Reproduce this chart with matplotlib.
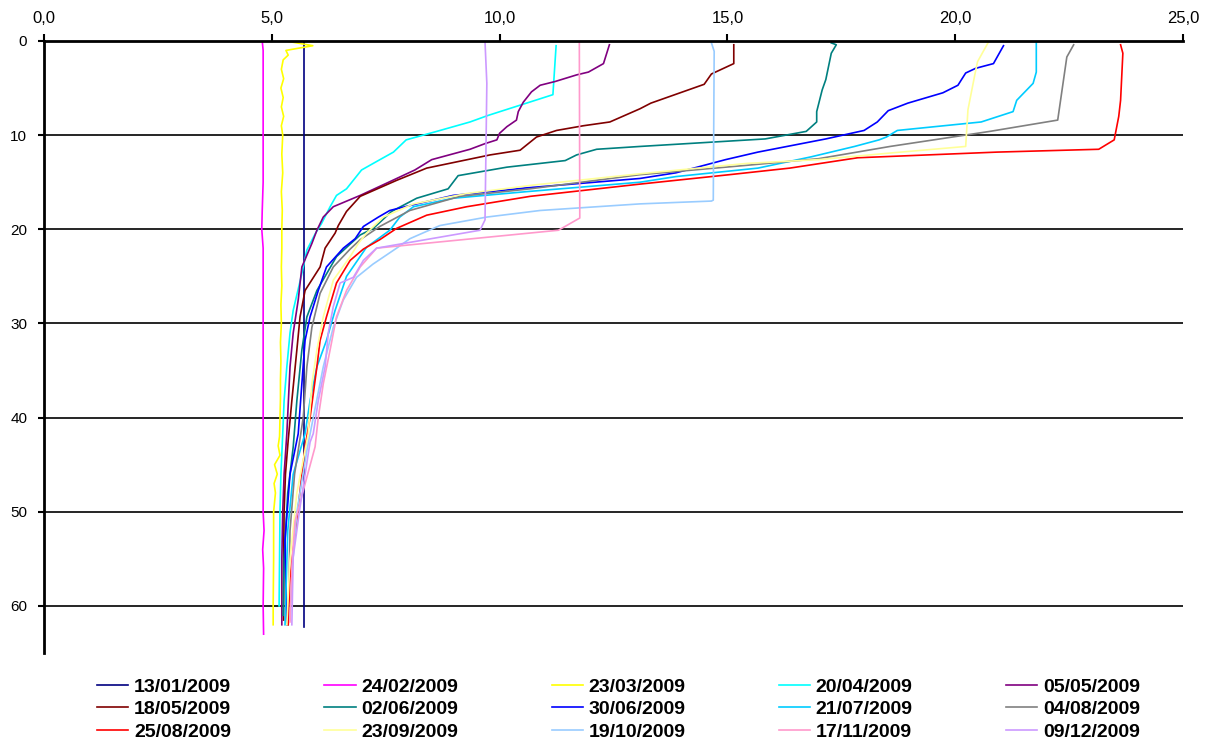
import matplotlib
matplotlib.use('Agg')
import matplotlib.pyplot as plt
from matplotlib.ticker import FuncFormatter

plt.rcParams['font.family'] = ['Liberation Sans', 'DejaVu Sans']

# Temperature profiles: depth (m) and temperature (deg C) per survey date
dates = ['13/01/2009', '24/02/2009', '23/03/2009', '20/04/2009', '05/05/2009',
         '18/05/2009', '02/06/2009', '30/06/2009', '21/07/2009', '04/08/2009',
         '25/08/2009', '23/09/2009', '19/10/2009', '17/11/2009', '09/12/2009']
colors = ['#000080', '#FF00FF', '#FFFF00', '#00FFFF', '#800080',
          '#800000', '#008080', '#0000FF', '#00CCFF', '#808080',
          '#FF0000', '#FFFF99', '#99CCFF', '#FF99CC', '#CC99FF']

d_0113 = [0, 62.2]
t_0113 = [5.71, 5.71]

d_0224 = [0, 1, 5, 15, 18, 20, 22, 30, 40, 50, 52, 54, 56, 60, 63]
t_0224 = [4.79, 4.81, 4.81, 4.81, 4.79, 4.78, 4.81, 4.81, 4.81, 4.81, 4.83, 4.80, 4.82, 4.81, 4.82]

d_0323 = [0, 0.5, 1, 1.5, 2, 3, 4, 5, 6, 7, 8, 9, 10, 12, 14, 16, 18, 20, 22, 24, 26, 28, 30,
          32, 34, 36, 38, 40, 42, 43, 44, 45, 46, 47, 48, 50, 55, 60, 62]
t_0323 = [5.31, 5.90, 5.31, 5.36, 5.25, 5.21, 5.26, 5.20, 5.25, 5.21, 5.26, 5.21, 5.24, 5.22,
          5.24, 5.21, 5.23, 5.22, 5.22, 5.21, 5.22, 5.20, 5.21, 5.19, 5.20, 5.19, 5.19, 5.18,
          5.17, 5.14, 5.18, 5.06, 5.12, 5.05, 5.08, 5.04, 5.04, 5.03, 5.03]

d_0420 = [0.5, 5.7, 6.6, 7.9, 8.6, 9.6, 10.5, 11.8, 12.8, 13.7, 15.7, 16.4, 17.6, 19.4, 20.5,
          22.2, 24.7, 28.6, 31, 34.6, 38.2, 41.7, 46, 50, 55, 60]
t_0420 = [11.24, 11.17, 10.59, 9.75, 9.35, 8.62, 7.95, 7.67, 7.30, 6.97, 6.64, 6.42, 6.28, 6.09,
          5.95, 5.77, 5.66, 5.47, 5.40, 5.33, 5.27, 5.24, 5.20, 5.18, 5.17, 5.16]

d_0505 = [0.4, 2.4, 3.3, 3.6, 4.3, 4.7, 5.4, 6.5, 7.5, 8.4, 9.1, 9.8, 10.5, 10.9, 11.5, 12.6,
          13.7, 15.1, 16.4, 17.6, 18.7, 20.1, 21.5, 24, 27.5, 31, 34.6, 41.7, 46, 50, 55, 62]
t_0505 = [12.41, 12.28, 11.95, 11.69, 11.22, 10.89, 10.70, 10.52, 10.41, 10.37, 10.16, 10.00,
          9.94, 9.68, 9.35, 8.51, 8.14, 7.52, 6.94, 6.35, 6.13, 5.99, 5.88, 5.66, 5.58, 5.47,
          5.40, 5.33, 5.27, 5.24, 5.22, 5.22]

d_0518 = [0.4, 2.4, 3.5, 4.6, 6.6, 7.2, 8.6, 9.0, 9.5, 10.2, 11.6, 12.1, 13.5, 14.8, 16.5, 18.1,
          19.6, 20.4, 22.0, 24, 26.5, 29.3, 32.8, 38.2, 42.4, 46, 50, 55, 61.5]
t_0518 = [15.14, 15.14, 14.65, 14.49, 13.32, 13.08, 12.42, 11.84, 11.25, 10.81, 10.45, 9.79,
          8.40, 7.74, 6.94, 6.64, 6.46, 6.39, 6.17, 6.06, 5.73, 5.62, 5.55, 5.44, 5.36, 5.30,
          5.27, 5.26, 5.26]

d_0602 = [0.2, 0.4, 1.3, 4.1, 5.2, 7.5, 8.6, 9.6, 10.4, 11.2, 11.5, 12.1, 12.7, 13.4, 14.3, 15.7,
          16.7, 18.1, 19.9, 20.6, 22.9, 26.5, 29.3, 32.8, 38.2, 43.1, 48, 55, 61]
t_0602 = [17.28, 17.39, 17.28, 17.16, 17.08, 16.96, 16.96, 16.73, 15.83, 13.08, 12.13, 11.69,
          11.44, 10.16, 9.09, 8.87, 8.18, 7.63, 7.23, 6.94, 6.42, 5.99, 5.77, 5.66, 5.55, 5.47,
          5.35, 5.27, 5.25]

d_0630 = [0.5, 2.4, 2.9, 3.4, 4.7, 5.5, 6.6, 7.4, 8.6, 9.5, 10.4, 11.8, 12.6, 14.0, 14.6, 15.6,
          16.4, 17.3, 18.0, 18.7, 19.7, 21.0, 22.0, 24, 26.5, 29.3, 31.8, 36.4, 41.7, 46, 53, 62]
t_0630 = [21.06, 20.84, 20.45, 20.23, 20.06, 19.73, 18.96, 18.53, 18.29, 18.00, 17.16, 15.67,
          14.96, 13.87, 13.08, 10.59, 8.98, 8.18, 7.59, 7.34, 7.01, 6.83, 6.57, 6.20, 6.02,
          5.84, 5.73, 5.66, 5.58, 5.40, 5.29, 5.33]

d_0721 = [0.2, 3.3, 4.5, 6.3, 7.5, 8.6, 9.5, 10.2, 10.5, 11.2, 12.3, 13.5, 14.4, 15.0, 16.0, 16.7,
          17.6, 18.7, 20.1, 21.9, 25, 28.6, 31.8, 34.6, 38.2, 41.7, 46, 52, 62]
t_0721 = [21.78, 21.78, 21.71, 21.35, 21.27, 20.57, 18.73, 18.49, 18.33, 17.79, 16.84, 15.67,
          13.87, 13.08, 10.59, 8.98, 8.11, 7.81, 7.59, 7.08, 6.64, 6.39, 6.20, 5.99, 5.84,
          5.73, 5.47, 5.35, 5.29]

d_0804 = [0.4, 1.7, 8.4, 9.6, 11.2, 12.5, 13.2, 14.2, 15.7, 16.5, 18.0, 19.7, 21.1, 22.1, 24,
          26.8, 30.4, 34.6, 40, 46, 52, 62]
t_0804 = [22.60, 22.45, 22.25, 20.76, 18.57, 17.00, 15.43, 13.08, 10.67, 9.13, 8.03, 7.37, 6.94,
          6.72, 6.35, 6.06, 5.88, 5.77, 5.69, 5.50, 5.40, 5.36]

d_0825 = [0.4, 1.3, 6.3, 8.0, 10.5, 11.5, 11.8, 12.4, 13.5, 14.2, 15.2, 16.5, 17.6, 18.5, 19.9,
          21.1, 22.1, 23.3, 25.7, 29.3, 31.8, 34.6, 40, 43.1, 49.5, 57, 62]
t_0825 = [23.63, 23.68, 23.63, 23.59, 23.49, 23.15, 20.92, 17.86, 16.37, 15.04, 13.08, 10.67,
          9.28, 8.40, 7.74, 7.37, 7.01, 6.72, 6.42, 6.20, 6.06, 5.99, 5.84, 5.73, 5.58, 5.40, 5.36]

d_0923 = [0.2, 2.2, 3.6, 7.3, 11.2, 11.9, 12.6, 13.0, 14.1, 15.3, 16.2, 17.3, 18.7, 20.4, 21.5,
          22.9, 25.4, 29.3, 32.8, 36.4, 41.7, 48, 55, 62]
t_0923 = [20.72, 20.49, 20.43, 20.28, 20.23, 18.57, 17.00, 15.43, 13.08, 10.74, 9.28, 8.11, 7.45,
          7.08, 6.90, 6.72, 6.35, 6.13, 5.99, 5.88, 5.80, 5.55, 5.40, 5.33]

d_1019 = [0.2, 1.1, 16.9, 17.0, 17.3, 18.0, 18.7, 19.6, 21.0, 22.0, 23.7, 25.1, 27.5, 30.4, 34.6,
          40, 43.5, 50, 56, 61.5]
t_1019 = [14.65, 14.71, 14.69, 14.65, 13.08, 10.89, 9.72, 8.69, 8.03, 7.74, 7.22, 6.86, 6.57,
          6.35, 6.13, 5.91, 5.77, 5.55, 5.45, 5.40]

d_1117 = [0.1, 18.8, 20.1, 22.0, 24, 26.5, 29.3, 32.8, 36.4, 40, 43.1, 51, 55, 61.7]
t_1117 = [11.75, 11.76, 11.29, 7.30, 6.94, 6.64, 6.42, 6.28, 6.13, 6.02, 5.95, 5.51, 5.45, 5.40]

d_1209 = [0.1, 4.5, 19.0, 20.1, 22.0, 23.3, 25.1, 25.7, 28.2, 31, 34.6, 38.2, 41.7, 42.6, 49.5,
          54.8, 62]
t_1209 = [9.68, 9.72, 9.68, 9.57, 7.30, 7.01, 6.79, 6.50, 6.35, 6.24, 6.17, 6.02, 5.91, 5.84,
          5.62, 5.47, 5.44]

depths = [d_0113, d_0224, d_0323, d_0420, d_0505, d_0518, d_0602, d_0630,
          d_0721, d_0804, d_0825, d_0923, d_1019, d_1117, d_1209]
temps = [t_0113, t_0224, t_0323, t_0420, t_0505, t_0518, t_0602, t_0630,
         t_0721, t_0804, t_0825, t_0923, t_1019, t_1117, t_1209]

fig = plt.figure(figsize=(12.15, 7.47), dpi=100)
ax = fig.add_axes([44 / 1215, 1 - 653 / 747, (1183 - 44) / 1215, (653 - 41) / 747])

lines = []
for d, t, c, lab in zip(depths, temps, colors, dates):
    ln, = ax.plot(t, d, color=c, lw=1.2, label=lab)
    lines.append(ln)

ax.set_xlim(0, 25)
ax.set_ylim(65, 0)
ax.xaxis.tick_top()
ax.set_xticks(range(0, 26, 5))
ax.xaxis.set_major_formatter(FuncFormatter(lambda v, p: ('%.1f' % v).replace('.', ',')))
ax.set_yticks(range(0, 61, 10))
ax.yaxis.grid(True, color='black', lw=1.2)
ax.set_axisbelow(True)
ax.tick_params(axis='x', direction='out', length=5, width=1.5, pad=6, labelsize=12)
ax.tick_params(axis='y', direction='out', length=4, width=1.5, pad=8, labelsize=11)
for s in ['bottom', 'right']:
    ax.spines[s].set_visible(False)
for s in ['top', 'left']:
    ax.spines[s].set_linewidth(2)

# legend is filled row by row in the reference
order = [i + 5 * r for i in range(5) for r in range(3)]
fig.legend([lines[i] for i in order], [dates[i] for i in order], ncol=5,
           loc='upper left', bbox_to_anchor=(97 / 1215, 1 - 678 / 747),
           frameon=False, prop={'weight': 'bold', 'size': 14},
           handlelength=1.6, handletextpad=0.3, columnspacing=4.8,
           labelspacing=0.26, borderpad=0, borderaxespad=0)

fig.savefig('out.png', dpi=100)
